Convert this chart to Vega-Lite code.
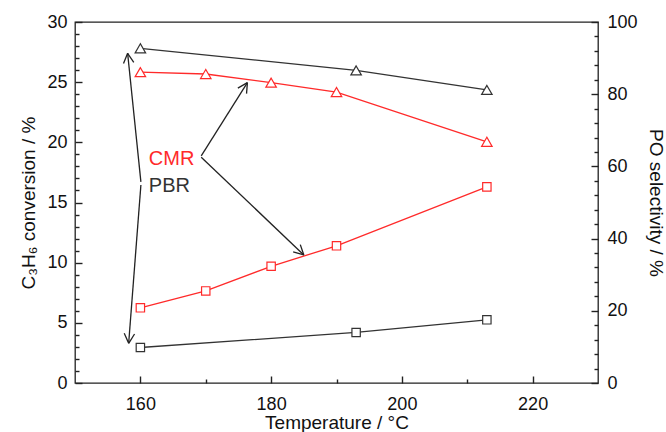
{
  "$schema": "https://vega.github.io/schema/vega-lite/v6.json",
  "autosize": "none",
  "width": 523,
  "height": 361,
  "padding": {"left": 75, "top": 22, "right": 68, "bottom": 49},
  "background": "white",
  "config": {
    "view": {"stroke": "#222222", "strokeWidth": 1.3},
    "font": "Liberation Sans",
    "axis": {
      "grid": false,
      "domain": false,
      "ticks": true,
      "zindex": 1,
      "tickColor": "#222222",
      "tickOpacity": 1,
      "tickWidth": 1.4,
      "labelFont": "Liberation Sans",
      "labelFontSize": 18,
      "labelColor": "#111111",
      "titleFont": "Liberation Sans",
      "titleFontSize": 19,
      "titleFontWeight": "normal",
      "titleColor": "#111111",
      "labelOverlap": false
    }
  },
  "datasets": {
    "conv": [
      {"T": 160, "conv": 6.25, "reactor": "CMR"},
      {"T": 170, "conv": 7.65, "reactor": "CMR"},
      {"T": 180, "conv": 9.7, "reactor": "CMR"},
      {"T": 190, "conv": 11.4, "reactor": "CMR"},
      {"T": 213, "conv": 16.3, "reactor": "CMR"},
      {"T": 160, "conv": 2.95, "reactor": "PBR"},
      {"T": 193, "conv": 4.2, "reactor": "PBR"},
      {"T": 213, "conv": 5.25, "reactor": "PBR"}
    ],
    "sel": [
      {"T": 160, "sel": 86.1, "reactor": "CMR"},
      {"T": 170, "sel": 85.6, "reactor": "CMR"},
      {"T": 180, "sel": 83.2, "reactor": "CMR"},
      {"T": 190, "sel": 80.6, "reactor": "CMR"},
      {"T": 213, "sel": 66.8, "reactor": "CMR"},
      {"T": 160, "sel": 92.7, "reactor": "PBR"},
      {"T": 193, "sel": 86.6, "reactor": "PBR"},
      {"T": 213, "sel": 81.2, "reactor": "PBR"}
    ],
    "arrows": [
      {"x": 160.08, "y": 16.71, "x2": 158.05, "y2": 27.4},
      {"x": 158.05, "y": 27.4, "x2": 157.42, "y2": 26.56},
      {"x": 158.05, "y": 27.4, "x2": 158.99, "y2": 26.65},
      {"x": 160.08, "y": 16.46, "x2": 158.21, "y2": 3.3},
      {"x": 158.21, "y": 3.3, "x2": 159.11, "y2": 4.07},
      {"x": 158.21, "y": 3.3, "x2": 157.53, "y2": 4.14},
      {"x": 169.31, "y": 18.87, "x2": 176.37, "y2": 24.96},
      {"x": 176.37, "y": 24.96, "x2": 174.91, "y2": 24.51},
      {"x": 176.37, "y": 24.96, "x2": 176.24, "y2": 24.05},
      {"x": 169.31, "y": 18.76, "x2": 185.0, "y2": 10.64},
      {"x": 185.0, "y": 10.64, "x2": 184.46, "y2": 11.5},
      {"x": 185.0, "y": 10.64, "x2": 183.37, "y2": 10.89}
    ],
    "labels": [
      {"x": 161.3, "y": 18.1, "text": "CMR"},
      {"x": 161.3, "y": 15.9, "text": "PBR"}
    ]
  },
  "layer": [
    {
      "data": {"name": "conv"},
      "mark": {"type": "point", "opacity": 0},
      "encoding": {
        "x": {
          "field": "T", "type": "quantitative",
          "scale": {"domain": [150, 230], "nice": false, "zero": false},
          "axis": {
            "orient": "bottom", "title": null, "labels": false,
            "values": [170, 190, 210], "tickSize": 4, "offset": -4
          }
        },
        "y": {
          "field": "conv", "type": "quantitative",
          "scale": {"domain": [0, 30], "nice": false},
          "axis": {
            "orient": "left", "title": null, "labels": false,
            "values": [1,2,3,4,6,7,8,9,11,12,13,14,16,17,18,19,21,22,23,24,26,27,28,29],
            "tickCount": 40, "tickSize": 4, "offset": -4
          }
        }
      }
    },
    {
      "data": {"name": "sel"},
      "mark": {"type": "point", "opacity": 0},
      "encoding": {
        "x": {
          "field": "T", "type": "quantitative",
          "scale": {"domain": [150, 230], "nice": false, "zero": false},
          "axis": null
        },
        "y": {
          "field": "sel", "type": "quantitative",
          "scale": {"domain": [0, 100], "nice": false},
          "axis": {
            "orient": "right", "title": null, "labels": false,
            "values": [4,8,12,16,24,28,32,36,44,48,52,56,64,68,72,76,84,88,92,96],
            "tickCount": 40, "tickSize": 4, "offset": -4
          }
        }
      }
    },
    {
      "layer": [
        {
          "data": {"name": "conv"},
          "mark": {"type": "line", "strokeWidth": 1.3},
          "encoding": {
            "x": {
              "field": "T", "type": "quantitative",
              "scale": {"domain": [150, 230], "nice": false, "zero": false},
              "axis": {
                "orient": "bottom",
                "title": "Temperature / °C",
                "values": [160, 180, 200, 220],
                "format": "d",
                "tickSize": 7,
                "offset": -7,
                "labelPadding": 12,
                "titlePadding": 0
              }
            },
            "y": {
              "field": "conv", "type": "quantitative",
              "scale": {"domain": [0, 30], "nice": false},
              "axis": {
                "orient": "left",
                "title": "C₃H₆ conversion / %",
                "values": [0, 5, 10, 15, 20, 25, 30],
                "format": "d",
                "tickSize": 7,
                "offset": -7,
                "labelPadding": 8,
                "titlePadding": 8
              }
            },
            "color": {
              "field": "reactor", "type": "nominal",
              "scale": {"domain": ["CMR", "PBR"], "range": ["#ff2a2a", "#333333"]},
              "legend": null
            }
          }
        },
        {
          "data": {"name": "conv"},
          "mark": {"type": "point", "shape": "square", "size": 70, "filled": false, "fill": "white", "fillOpacity": 1, "strokeWidth": 1.2, "opacity": 1},
          "encoding": {
            "x": {"field": "T", "type": "quantitative"},
            "y": {"field": "conv", "type": "quantitative"},
            "color": {"field": "reactor", "type": "nominal", "legend": null}
          }
        },
        {
          "data": {"name": "arrows"},
          "mark": {"type": "rule", "color": "#222222", "strokeWidth": 1.3},
          "encoding": {
            "x": {"field": "x", "type": "quantitative"},
            "y": {"field": "y", "type": "quantitative"},
            "x2": {"field": "x2"},
            "y2": {"field": "y2"}
          }
        },
        {
          "data": {"name": "labels"},
          "mark": {"type": "text", "align": "left", "baseline": "alphabetic", "fontSize": 20, "font": "Liberation Sans"},
          "encoding": {
            "x": {"field": "x", "type": "quantitative"},
            "y": {"field": "y", "type": "quantitative"},
            "text": {"field": "text"},
            "color": {
              "field": "text", "type": "nominal",
              "scale": {"domain": ["CMR", "PBR", "x"], "range": ["#ff2020", "#111111", "#000000"]},
              "legend": null
            }
          }
        }
      ]
    },
    {
      "data": {"name": "sel"},
      "layer": [
        {
          "mark": {"type": "line", "strokeWidth": 1.3},
          "encoding": {
            "x": {
              "field": "T", "type": "quantitative",
              "scale": {"domain": [150, 230], "nice": false, "zero": false},
              "axis": null
            },
            "y": {
              "field": "sel", "type": "quantitative",
              "scale": {"domain": [0, 100], "nice": false},
              "axis": {
                "orient": "right",
                "title": "PO selectivity / %",
                "values": [0, 20, 40, 60, 80, 100],
                "format": "d",
                "tickSize": 7,
                "offset": -7,
                "labelPadding": 9,
                "titlePadding": 8
              }
            },
            "color": {
              "field": "reactor", "type": "nominal",
              "scale": {"domain": ["CMR", "PBR"], "range": ["#ff2a2a", "#333333"]},
              "legend": null
            }
          }
        },
        {
          "mark": {"type": "point", "shape": "triangle-up", "size": 110, "filled": false, "fill": "white", "fillOpacity": 1, "strokeWidth": 1.2, "opacity": 1},
          "encoding": {
            "x": {"field": "T", "type": "quantitative"},
            "y": {"field": "sel", "type": "quantitative"},
            "color": {"field": "reactor", "type": "nominal", "legend": null}
          }
        }
      ]
    }
  ],
  "resolve": {"scale": {"x": "independent", "y": "independent"}}
}
